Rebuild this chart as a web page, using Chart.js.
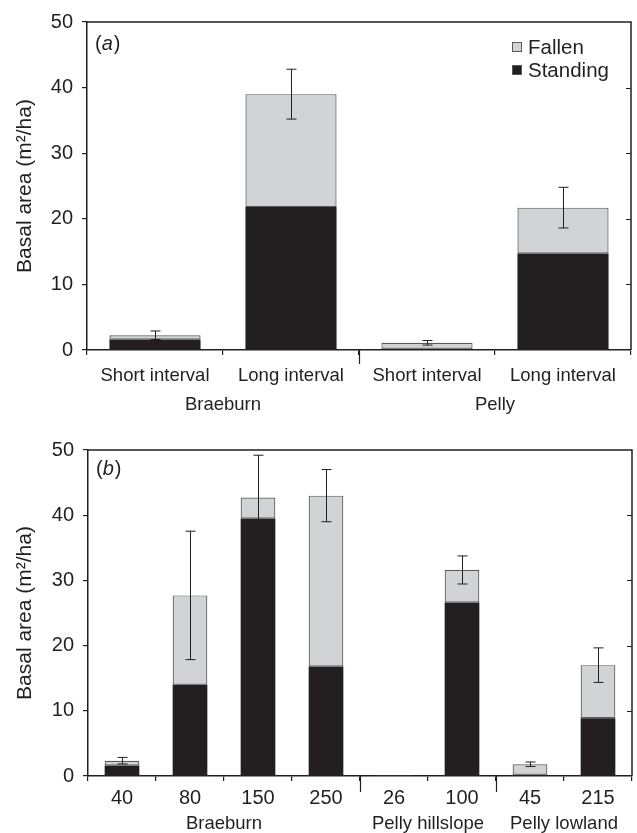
<!DOCTYPE html>
<html><head><meta charset="utf-8">
<script src="https://cdn.jsdelivr.net/npm/chart.js@4.4.1/dist/chart.umd.min.js"></script>
<style>
html,body{margin:0;padding:0;background:#fff;}
#wrap{width:637px;height:833px;position:relative;overflow:hidden;}
.c{position:absolute;left:0;width:637px;}
</style></head><body>
<div id="wrap">
<div class="c" style="top:0;height:416px"><canvas id="ca"></canvas></div>
<div class="c" style="top:416px;height:417px"><canvas id="cb"></canvas></div>
</div>
<script>
// ---- Panel (a) data ----
const catsA = ['Short interval', 'Long interval', 'Short interval', 'Long interval'];
const groupsA = [{label: 'Braeburn', from: 0, to: 1}, {label: 'Pelly', from: 2, to: 3}];
const standingA = [1.6, 21.8, 0.2, 14.7];
const fallenA = [0.65, 17.2, 0.9, 7.0];
const errA = [0.65, 3.8, 0.35, 3.1];

// ---- Panel (b) data ----
const catsB = ['40', '80', '150', '250', '26', '100', '45', '215'];
const groupsB = [{label: 'Braeburn', from: 0, to: 3}, {label: 'Pelly hillslope', from: 4, to: 5}, {label: 'Pelly lowland', from: 6, to: 7}];
const standingB = [1.6, 14.0, 39.5, 16.8, 0.05, 26.6, 0.2, 8.85];
const fallenB = [0.75, 13.7, 3.2, 26.2, 0.05, 5.0, 1.6, 8.15];
const errB = [0.5, 9.85, 6.5, 4.0, 0, 2.15, 0.35, 2.65];

const yTicks = [0, 10, 20, 30, 40, 50];
const yTitle = 'Basal area (m\u00B2/ha)';

const INK = '#231f20';
const GRAY = '#d1d3d4';
const EDGE = '#58595b';
const FONT = "'Liberation Sans', Arial, Helvetica, sans-serif";

function overlay(cfg) {
  return {
    id: 'overlay',
    afterDatasetsDraw(chart) {
      const ctx = chart.ctx;
      const xs = chart.scales.x, ys = chart.scales.y;
      const ca = chart.chartArea;
      ctx.save();
      // error bars
      ctx.strokeStyle = INK;
      ctx.lineWidth = 1;
      const st = chart.data.datasets[0].data, fa = chart.data.datasets[1].data, er = cfg.err;
      for (let i = 0; i < st.length; i++) {
        if (!er[i]) continue;
        const tot = st[i] + fa[i];
        const x = Math.round(xs.getPixelForValue(i)) + 0.5;
        const y1 = ys.getPixelForValue(tot + er[i]);
        const y2 = ys.getPixelForValue(tot - er[i]);
        ctx.beginPath();
        ctx.moveTo(x, y1); ctx.lineTo(x, y2);
        ctx.moveTo(x - 5, y1); ctx.lineTo(x + 5, y1);
        ctx.moveTo(x - 5, y2); ctx.lineTo(x + 5, y2);
        ctx.stroke();
      }
      // frame top & right
      ctx.strokeStyle = INK;
      ctx.lineWidth = 1.5;
      ctx.beginPath();
      ctx.moveTo(ca.left, ca.top); ctx.lineTo(ca.right, ca.top); ctx.lineTo(ca.right, ca.bottom);
      ctx.stroke();
      ctx.lineWidth = 1;
      ctx.beginPath();
      yTicks.forEach(v => {
        if (v === 0 || v === 50) return;
        const y = Math.round(ys.getPixelForValue(v)) + 0.5;
        ctx.moveTo(ca.right, y); ctx.lineTo(ca.right - 5, y);
      });
      ctx.stroke();
      // long separator ticks between groups
      ctx.lineWidth = 1.2;
      ctx.beginPath();
      cfg.groups.forEach((g, k) => {
        if (k === 0) return;
        const x = Math.round((xs.getPixelForValue(g.from - 1) + xs.getPixelForValue(g.from)) / 2) + 0.5;
        ctx.moveTo(x, ca.bottom); ctx.lineTo(x, ca.bottom + cfg.longTick);
      });
      ctx.stroke();
      // group labels
      ctx.fillStyle = INK;
      ctx.font = '18.5px ' + FONT;
      ctx.textAlign = 'center';
      ctx.textBaseline = 'alphabetic';
      cfg.groups.forEach(g => {
        const x = (xs.getPixelForValue(g.from) + xs.getPixelForValue(g.to)) / 2;
        ctx.fillText(g.label, x, cfg.groupY);
      });
      // panel letter
      ctx.textAlign = 'left';
      ctx.textBaseline = 'middle';
      let px = ca.left + 8;
      const py = ca.top + cfg.letterDy;
      ctx.font = '20px ' + FONT;
      ctx.fillText('(', px, py); px += ctx.measureText('(').width;
      ctx.font = 'italic 20px ' + FONT;
      ctx.fillText(cfg.letter, px, py); px += ctx.measureText(cfg.letter).width + 1;
      ctx.font = '20px ' + FONT;
      ctx.fillText(')', px, py);
      // legend
      if (cfg.legend) {
        const items = [chart.data.datasets[1], chart.data.datasets[0]];
        ctx.font = '20.5px ' + FONT;
        items.forEach((ds, k) => {
          const cy = ca.top + 25 + k * 23;
          ctx.fillStyle = ds.backgroundColor;
          ctx.fillRect(ca.right - 119, cy - 5, 10, 10);
          ctx.strokeStyle = EDGE;
          ctx.lineWidth = 1;
          ctx.strokeRect(ca.right - 118.5, cy - 4.5, 9, 9);
          ctx.fillStyle = INK;
          ctx.fillText(ds.label, ca.right - 103, cy + 1);
        });
      }
      ctx.restore();
    }
  };
}

function makeChart(id, o) {
  return new Chart(document.getElementById(id), {
    type: 'bar',
    data: {
      labels: o.cats,
      datasets: [
        {label: 'Standing', data: o.standing, backgroundColor: INK, borderColor: INK, borderWidth: 0,
         categoryPercentage: 1, barPercentage: o.barPct},
        {label: 'Fallen', data: o.fallen, backgroundColor: GRAY, borderColor: EDGE, borderWidth: 1.2, borderSkipped: false,
         categoryPercentage: 1, barPercentage: o.barPct}
      ]
    },
    options: {
      responsive: true, maintainAspectRatio: false, animation: false,
      devicePixelRatio: 1,
      layout: {padding: {left: 0, right: o.padRight, top: o.padTop, bottom: 0}},
      plugins: {legend: {display: false}, tooltip: {enabled: false}},
      scales: {
        x: {
          stacked: true,
          grid: {offset: true, drawOnChartArea: false, drawTicks: true, tickLength: 5, color: INK, lineWidth: 1.2},
          border: {display: true, color: INK, width: 1.5},
          ticks: {color: INK, font: {family: FONT, size: o.xFont}, padding: o.xPad, maxRotation: 0, autoSkip: false},
          afterFit(s) { s.height = o.xHeight; }
        },
        y: {
          stacked: true, min: 0, max: 50,
          afterBuildTicks(s) { s.ticks = yTicks.map(v => ({value: v})); },
          grid: {drawOnChartArea: false, drawTicks: true, tickLength: 5, color: INK, lineWidth: 1.2},
          border: {display: true, color: INK, width: 1.5},
          ticks: {color: INK, font: {family: FONT, size: 20}, padding: 9},
          title: {display: true, text: yTitle, color: INK, font: {family: FONT, size: 21}, padding: {top: 13, bottom: 0}},
          afterFit(s) { s.width = o.yWidth; }
        }
      }
    },
    plugins: [overlay(o)]
  });
}

makeChart('ca', {
  cats: catsA, standing: standingA, fallen: fallenA, err: errA, groups: groupsA,
  barPct: 0.67, padTop: 22, padRight: 6, xHeight: 66, yWidth: 87, xFont: 18.5, xPad: 10,
  longTick: 14, groupY: 410, letter: 'a', letterDy: 22, legend: true
});
makeChart('cb', {
  cats: catsB, standing: standingB, fallen: fallenB, err: errB, groups: groupsB,
  barPct: 0.51, padTop: 34, padRight: 5, xHeight: 57, yWidth: 88, xFont: 20, xPad: 5,
  longTick: 16, groupY: 413, letter: 'b', letterDy: 19, legend: false
});
</script>
</body></html>
